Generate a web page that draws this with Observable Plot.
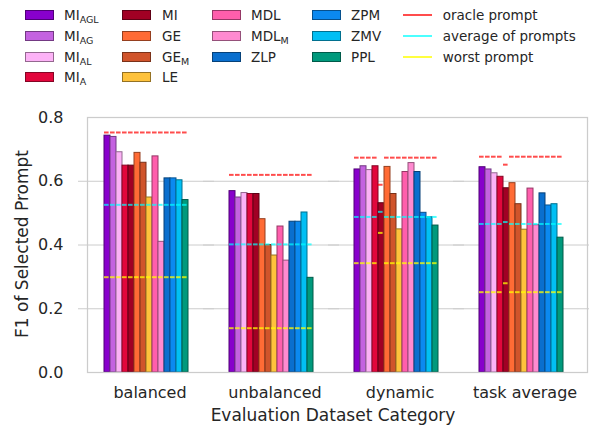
<!DOCTYPE html>
<html><head><meta charset="utf-8">
<script src="https://cdn.jsdelivr.net/npm/d3@7"></script>
<script src="https://cdn.jsdelivr.net/npm/@observablehq/plot@0.6"></script>
<style>
body{margin:0;background:#fff;font-family:"DejaVu Sans",sans-serif;color:#262626}
#wrap{position:relative;width:589px;height:428px;overflow:hidden}
#legend{position:relative;width:589px;height:100px}
.sw{position:absolute;width:27px;height:8px;box-sizing:content-box}
.ln{position:absolute;width:29px;height:2px}
.lab{position:absolute;font-size:13.5px;line-height:20px;white-space:nowrap}
.lab sub{font-size:9.5px;vertical-align:-3px;line-height:0}
.axlab{position:absolute;font-size:17px;white-space:nowrap;line-height:20px}
</style></head>
<body><div id="wrap"><div id="legend"></div><div id="chart"></div><div id="xlab" class="axlab">Evaluation Dataset Category</div><div id="ylab" class="axlab">F1 of Selected Prompt</div></div>
<script>
const categories = ["balanced", "unbalanced", "dynamic", "task average"];
const methods = ["MI_AGL","MI_AG","MI_AL","MI_A","MI","GE","GE_M","LE","MDL","MDL_M","ZLP","ZPM","ZMV","PPL"];
const methodNames = [["MI","AGL"],["MI","AG"],["MI","AL"],["MI","A"],["MI",""],["GE",""],["GE","M"],["LE",""],["MDL",""],["MDL","M"],["ZLP",""],["ZPM",""],["ZMV",""],["PPL",""]];
const methodColors = ["#8800cc","#c462e0","#fcb2f6","#e2063c","#a10024","#ff6b35","#d0542b","#fec23c","#ff5eac","#ff8ad0","#0a6fce","#0b89f0","#01bff4","#00997c"];
const balanced    = [0.743,0.739,0.691,0.649,0.649,0.689,0.658,0.549,0.678,0.410,0.609,0.609,0.603,0.541];
const unbalanced  = [0.569,0.549,0.563,0.560,0.560,0.481,0.400,0.367,0.458,0.351,0.473,0.473,0.502,0.297];
const dynamic     = [0.637,0.647,0.635,0.647,0.531,0.645,0.560,0.449,0.629,0.657,0.629,0.501,0.487,0.461];
const taskAverage = [0.644,0.637,0.625,0.614,0.578,0.594,0.528,0.448,0.577,0.462,0.562,0.524,0.528,0.423];
const oraclePrompt  = [0.753,0.620,0.674,0.677];
const averagePrompt = [0.526,0.402,0.488,0.466];
const worstPrompt   = [0.299,0.139,0.343,0.252];
const oracleMI  = [0.753,0.620,0.589,0.652];
const averageMI = [0.526,0.402,0.504,0.472];
const worstMI   = [0.299,0.139,0.438,0.280];
const gridTicks = [0.2, 0.4, 0.6];
const refLines = [["oracle prompt","#ff0000",0.7],["average of prompts","#00ffff",0.7],["worst prompt","#ffff00",0.75]];

const series = [balanced, unbalanced, dynamic, taskAverage];
const rows = [];
categories.forEach((c, ci) => methods.forEach((m, mi) => rows.push({
  category: c, method: m, value: series[ci][mi],
  color: methodColors[mi], edge: d3.color(methodColors[mi]).darker(1.5).formatHex(),
  oracle: m === "MI" ? oracleMI[ci] : oraclePrompt[ci],
  average: m === "MI" ? averageMI[ci] : averagePrompt[ci],
  worst: m === "MI" ? worstMI[ci] : worstPrompt[ci]
})));
const gridRows = categories.flatMap(c => gridTicks.map(v => ({category: c, v})));

// legend
const legend = document.getElementById("legend");
const colSizes = [4,4,3,3];
const colX = [25, 122, 212, 311.7];
const labX = [64, 162, 251, 351];
const rowY = [15.3, 36, 56.7, 77.3];
let k = 0;
colSizes.forEach((n, ci) => { for (let r = 0; r < n; r++, k++) {
  const sw = document.createElement("div"); sw.className = "sw";
  sw.style.left = colX[ci] + "px"; sw.style.top = (rowY[r] - 5) + "px";
  sw.style.background = methodColors[k]; sw.style.border = "1px solid " + d3.color(methodColors[k]).darker(1.5).formatHex();
  legend.appendChild(sw);
  const lb = document.createElement("div"); lb.className = "lab";
  lb.style.left = labX[ci] + "px"; lb.style.top = (rowY[r] - 10) + "px";
  lb.innerHTML = methodNames[k][0] + (methodNames[k][1] ? "<sub>" + methodNames[k][1] + "</sub>" : "");
  legend.appendChild(lb);
}});
refLines.forEach(([name, col, op], r) => {
  const ln = document.createElement("div"); ln.className = "ln";
  ln.style.left = "402.7px"; ln.style.top = (rowY[r] - 1) + "px"; ln.style.background = col; ln.style.opacity = op;
  legend.appendChild(ln);
  const lb = document.createElement("div"); lb.className = "lab";
  lb.style.left = "442.7px"; lb.style.top = (rowY[r] - 10) + "px"; lb.textContent = name;
  legend.appendChild(lb);
});

const dash = "4.6,1.66";
const chart = Plot.plot({
  width: 589, height: 328,
  marginTop: 17, marginBottom: 56, marginLeft: 78, marginRight: 1,
  style: {fontFamily: "DejaVu Sans", fontSize: "16px", color: "#262626", background: "transparent", overflow: "visible"},
  fx: {domain: categories, paddingInner: 0, paddingOuter: 0.035, align: 0.91, label: null, tickSize: 0, tickPadding: 14.5},
  x: {domain: methods, paddingInner: 0, paddingOuter: 3.02, align: 0.42, axis: null},
  y: {domain: [0, 0.8], ticks: [0, 0.2, 0.4, 0.6, 0.8], tickFormat: ".1f", tickSize: 0, tickPadding: 24, label: null},
  color: {type: "identity"},
  marks: [
    Plot.ruleY(gridRows, {fx: "category", y: "v", stroke: "#cccccc", strokeWidth: 1, insetLeft: -9, insetRight: -2}),
    Plot.barY(rows, {fx: "category", x: "method", y: "value", fill: "color", stroke: "edge", strokeWidth: 1}),
    Plot.tickY(rows, {fx: "category", x: "method", y: "worst", stroke: refLines[2][1], strokeOpacity: refLines[2][2], strokeWidth: 2, strokeDasharray: dash}),
    Plot.tickY(rows, {fx: "category", x: "method", y: "average", stroke: refLines[1][1], strokeOpacity: refLines[1][2], strokeWidth: 2, strokeDasharray: dash}),
    Plot.tickY(rows, {fx: "category", x: "method", y: "oracle", stroke: refLines[0][1], strokeOpacity: refLines[0][2], strokeWidth: 2, strokeDasharray: dash}),
    Plot.frame({stroke: "#cccccc", strokeWidth: 1.25, facet: "super"})
  ]
});
document.getElementById("chart").appendChild(chart);
const xl = document.getElementById("xlab");
xl.style.left = "333px"; xl.style.top = "415px"; xl.style.transform = "translate(-50%,-50%)";
const yl = document.getElementById("ylab");
yl.style.left = "22px"; yl.style.top = "244px"; yl.style.transform = "translate(-50%,-50%) rotate(-90deg)";
</script></body></html>
